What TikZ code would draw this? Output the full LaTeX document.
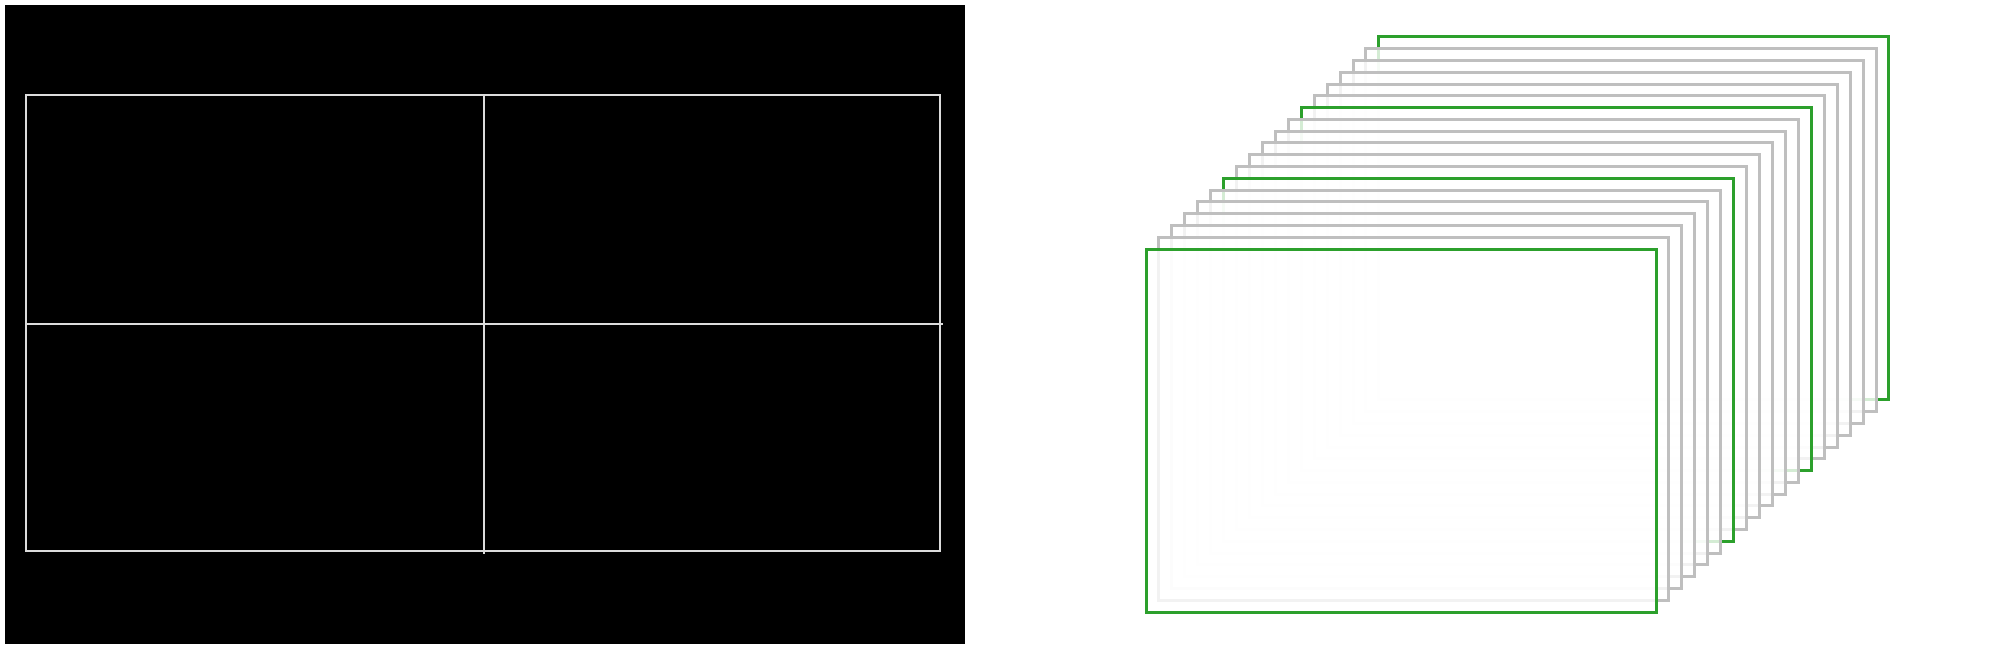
\documentclass[tikz,border=0pt]{standalone}
\definecolor{framegreen}{HTML}{2CA02C}
\definecolor{framegray}{HTML}{BFBFBF}
\definecolor{gridline}{HTML}{DCDCDC}
\tikzset{
  panel/.style={fill=black, draw=none},
  gridln/.style={draw=gridline, line width=2pt},
  frame/.style={fill=white, fill opacity=0.8, line width=3pt, line join=miter}
}
\begin{document}
\begin{tikzpicture}[x=1pt, y=-1pt]
\useasboundingbox[fill=white] (0,0) rectangle (2010,650);
% left panel
\path[panel] (5,5) rectangle (965,644);
\draw[gridln] (26,95) rectangle (940,551);
\draw[gridln] (26,324) -- (943,324);
\draw[gridln] (484,95) -- (484,554);
% right stack of frames
\foreach \i in {18,17,...,0}{
  \pgfmathsetmacro\xa{1146+12.94*\i}
  \pgfmathsetmacro\ya{249-11.78*\i}
  \pgfmathtruncatemacro\m{mod(\i,6)}
  \ifnum\m=0 \def\fc{framegreen}\else\def\fc{framegray}\fi
  \draw[frame, draw=\fc] (\xa,\ya) rectangle ++(510,363);
}
\end{tikzpicture}
\end{document}
